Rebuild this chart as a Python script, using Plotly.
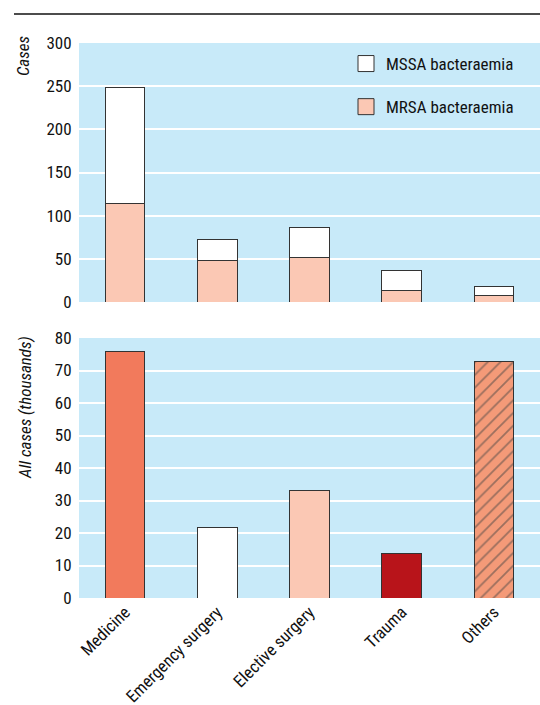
import plotly.graph_objects as go

categories = ["Medicine", "Emergency surgery", "Elective surgery", "Trauma", "Others"]
mrsa_cases = [114, 48, 52, 13, 8]
mssa_cases = [134, 24, 34, 23, 10]
all_cases_thousands = [76, 21.8, 33.2, 13.8, 72.9]
top_ticks = [0, 50, 100, 150, 200, 250, 300]
bottom_ticks = [0, 10, 20, 30, 40, 50, 60, 70, 80]

BG = "#c8eaf9"
OUTLINE = "#333333"
MRSA_COL = "#fbc8b4"
MSSA_COL = "#ffffff"
bottom_colors = ["#f27a5c", "#ffffff", "#fbc8b4", "#b8141a", "#f49a78"]
bottom_patterns = ["", "", "", "", "/"]
FONT = "Liberation Sans Narrow, Roboto Condensed, Arial Narrow, Liberation Sans, sans-serif"
TXT = "#111111"

fig = go.Figure()
fig.add_trace(go.Bar(x=categories, y=mrsa_cases, name="MRSA bacteraemia", showlegend=False,
                     marker=dict(color=MRSA_COL, line=dict(color=OUTLINE, width=1)),
                     width=0.43, xaxis="x", yaxis="y"))
fig.add_trace(go.Bar(x=categories, y=mssa_cases, name="MSSA bacteraemia", showlegend=False,
                     marker=dict(color=MSSA_COL, line=dict(color=OUTLINE, width=1)),
                     width=0.43, xaxis="x", yaxis="y"))
# legend-only entries (larger square swatches)
fig.add_trace(go.Scatter(x=[None], y=[None], mode="markers", name="MSSA bacteraemia",
                         marker=dict(symbol="square", size=18, color=MSSA_COL,
                                     line=dict(color=OUTLINE, width=1)),
                         legendgroup="a", xaxis="x", yaxis="y"))
fig.add_trace(go.Scatter(x=[None], y=[None], mode="markers", name="MRSA bacteraemia",
                         marker=dict(symbol="square", size=18, color=MRSA_COL,
                                     line=dict(color=OUTLINE, width=1)),
                         legendgroup="b", xaxis="x", yaxis="y"))
fig.add_trace(go.Bar(x=categories, y=all_cases_thousands, showlegend=False,
                     marker=dict(color=bottom_colors, line=dict(color=OUTLINE, width=1),
                                 pattern=dict(shape=bottom_patterns, fgcolor="#000000",
                                              size=9, solidity=0.2)),
                     width=0.43, xaxis="x2", yaxis="y2"))

H = 705
W = 540
L = 79
fig.update_layout(
    width=W, height=H, barmode="stack",
    paper_bgcolor="white", plot_bgcolor=BG,
    margin=dict(l=L, r=0, t=0, b=0, autoexpand=False),
    font=dict(family=FONT, size=17, color=TXT),
    showlegend=True,
    legend=dict(x=(346 - L) / (W - L), y=1 - 46 / H, xanchor="left", yanchor="top",
                bgcolor="rgba(0,0,0,0)", tracegroupgap=18, itemsizing="trace",
                font=dict(family=FONT, size=17, color=TXT)),
    xaxis=dict(domain=[0, 1], anchor="y", showticklabels=False, showgrid=False,
               zeroline=False, showline=False, ticks=""),
    yaxis=dict(domain=[1 - 302 / H, 1 - 43 / H], anchor="x", range=[0, 300],
               tickvals=top_ticks, showgrid=True, gridcolor="white", gridwidth=1.5,
               zeroline=False, showline=False, ticks="outside", ticklen=3,
               tickcolor="rgba(0,0,0,0)"),
    xaxis2=dict(domain=[0, 1], anchor="y2", showgrid=False, zeroline=False,
                showline=False, tickangle=-45, ticks="", tickfont=dict(size=17)),
    yaxis2=dict(domain=[1 - 598 / H, 1 - 338 / H], anchor="x2", range=[0, 80],
                tickvals=bottom_ticks, showgrid=True, gridcolor="white", gridwidth=1.5,
                zeroline=False, showline=False, ticks="outside", ticklen=3,
                tickcolor="rgba(0,0,0,0)"),
    shapes=[dict(type="line", xref="paper", yref="paper",
                 x0=(14 - L) / (W - L), x1=1, y0=1 - 14 / H, y1=1 - 14 / H,
                 line=dict(color="#111111", width=1.5))],
    annotations=[
        dict(text="<i>Cases</i>", xref="paper", yref="paper",
             x=(23 - L) / (W - L), y=1 - 56 / H, textangle=-90, showarrow=False,
             xanchor="center", yanchor="middle",
             font=dict(family=FONT, size=17, color=TXT)),
        dict(text="<i>All cases (thousands)</i>", xref="paper", yref="paper",
             x=(25 - L) / (W - L), y=1 - 408 / H, textangle=-90, showarrow=False,
             xanchor="center", yanchor="middle",
             font=dict(family=FONT, size=17, color=TXT)),
    ],
)

fig.write_html("out.html", config={"displayModeBar": False},
               post_script="document.body.style.margin='0';document.body.style.overflow='hidden';")
